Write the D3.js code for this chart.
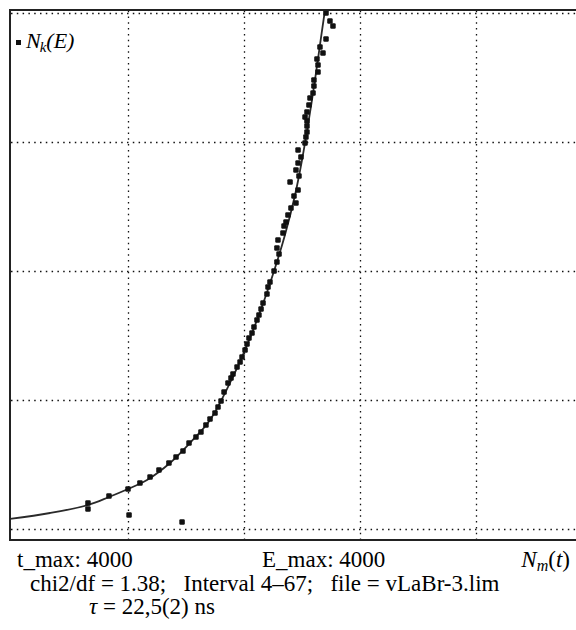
<!DOCTYPE html>
<html><head><meta charset="utf-8">
<script src="https://cdn.jsdelivr.net/npm/d3@7"></script>
<style>
html,body{margin:0;padding:0;background:#fff;}
svg{display:block;}
text{font-family:"Liberation Serif","Times New Roman",Times,Tinos,"Nimbus Roman","DejaVu Serif","Noto Serif",serif;fill:#000;}
</style></head>
<body>
<svg id="chart" width="576" height="630"></svg>
<script>
// measured points N_k(E) vs N_m(t)
const ptX = [655,655,836,1000,1103,1190,1267,1353,1414,1474,1526,1586,1629,1672,1707,1750,1776,1802,
  1828,1862,1888,1905,1940,1966,1983,2009,2026,2043,2069,2086,2112,2129,2147,2164,2198,2207,2224,2259,2284,2302,
  2284,2293,2336,2345,2362,2379,2405,2448,2431,2466,2397,2474,2448,2466,2491,2466,2526,2534,2543,2543,2543,
  2526,2543,2560,2569,2595,2603,2603,2638,2638,2629,2681,2655,2707,2767,2741,2707];
const ptY = [202,155,256,310,357,403,457,512,558,605,667,713,752,806,853,899,946,992,
  1062,1132,1171,1202,1256,1295,1333,1388,1434,1481,1519,1566,1620,1659,1705,1752,1822,1876,1915,2000,2070,2132,
  2178,2240,2295,2349,2380,2434,2488,2527,2581,2628,2690,2736,2783,2837,2884,2938,2992,3039,3078,3124,3163,
  3194,3233,3287,3341,3380,3434,3481,3543,3597,3643,3690,3736,3798,3899,3938,4000];
// outliers outside fit interval
const outX = [1009,1466];
const outY = [109,54];
// fitted curve
const fitX = [-20,328,655,836,1000,1164,1362,1534,1707,1879,2009,2138,2259,2353,2440,2500,2552,2612,2655,2698,2724];
const fitY = [78,124,186,248,310,380,512,667,845,1132,1388,1682,2000,2279,2589,2860,3132,3481,3752,4023,4178];
// grid ticks
const xTicks = [1000,2000,3000,4000];
const yTicks = [0,1000,2000,3000,4000];
const legendLabel = {main:"N", sub:"k", rest:"(E)"};
const infoLeft = "t_max: 4000";
const infoMid = "E_max: 4000";
const xLabel = {main:"N", sub:"m", rest:"(t)"};
const infoLine2 = "chi2/df = 1.38;   Interval 4–67;   file = vLaBr-3.lim";
const infoLine3 = {sym:"τ", rest:" = 22,5(2) ns"};

const FONT = '"Liberation Serif","Times New Roman",Times,Tinos,"Nimbus Roman","DejaVu Serif","Noto Serif",serif';
const svg = d3.select("#chart");
svg.append("rect").attr("width",576).attr("height",630).attr("fill","#fff");

const x = d3.scaleLinear().domain([0,5000]).range([12,592]);
const y = d3.scaleLinear().domain([0,4000]).range([529,13]);

const frame = {x0:10,y0:10,x1:610,y1:540};
svg.append("defs").append("clipPath").attr("id","clip")
  .append("rect").attr("x",frame.x0).attr("y",frame.y0)
  .attr("width",frame.x1-frame.x0).attr("height",frame.y1-frame.y0);

// grid
const gx = svg.append("g").attr("transform",`translate(0,${frame.y1})`)
  .call(d3.axisBottom(x).tickValues(xTicks).tickSize(frame.y1-frame.y0).tickFormat(""));
gx.select(".domain").remove();
gx.selectAll(".tick line").attr("y2",-(frame.y1-frame.y0)).attr("y1",0)
  .attr("stroke","#111").attr("stroke-width",1.3).attr("stroke-dasharray","1.5,4.3");
const gy = svg.append("g").attr("transform",`translate(${frame.x0},0)`)
  .call(d3.axisLeft(y).tickValues(yTicks).tickSize(0).tickFormat(""));
gy.select(".domain").remove();
gy.selectAll(".tick line").attr("x1",1).attr("x2",frame.x1)
  .attr("stroke","#111").attr("stroke-width",1.3).attr("stroke-dasharray","1.5,4.3");

const plot = svg.append("g").attr("clip-path","url(#clip)");
// fit curve
const fit = fitX.map((v,i)=>[v,fitY[i]]);
plot.append("path").datum(fit)
  .attr("d", d3.line().x(d=>x(d[0])).y(d=>y(d[1])).curve(d3.curveCatmullRom))
  .attr("fill","none").attr("stroke","#2a2a2a").attr("stroke-width",1.8);

// points
const pts = ptX.map((v,i)=>[v,ptY[i]]).concat(outX.map((v,i)=>[v,outY[i]]));
plot.selectAll("rect.pt").data(pts).enter().append("rect").attr("class","pt")
  .attr("x",d=>x(d[0])-2.75).attr("y",d=>y(d[1])-2.75)
  .attr("width",5.5).attr("height",5.5).attr("rx",1.2).attr("fill","#111");

// frame (left, top, bottom)
svg.append("path")
  .attr("d",`M${frame.x1},${frame.y0}H${frame.x0}V${frame.y1}H${frame.x1}`)
  .attr("fill","none").attr("stroke","#222").attr("stroke-width",2);

// legend
svg.append("rect").attr("x",16).attr("y",40).attr("width",5).attr("height",5).attr("fill","#111");
const lg = svg.append("text").attr("x",26).attr("y",48).attr("font-size",22).attr("font-family",FONT);
lg.append("tspan").attr("font-style","italic").text(legendLabel.main);
lg.append("tspan").attr("font-style","italic").attr("font-size",15).attr("dy",4).attr("dx",-1).text(legendLabel.sub);
lg.append("tspan").attr("font-style","italic").attr("dy",-4).text(legendLabel.rest);

// info text
const FS = 23;
svg.append("text").attr("x",17).attr("y",567).attr("font-size",FS).attr("font-family",FONT).text(infoLeft);
svg.append("text").attr("x",262).attr("y",567).attr("font-size",FS).attr("font-family",FONT).text(infoMid);
const xl = svg.append("text").attr("x",570).attr("y",567).attr("font-size",FS)
  .attr("font-family",FONT).attr("text-anchor","end");
xl.append("tspan").attr("font-style","italic").text(xLabel.main);
xl.append("tspan").attr("font-style","italic").attr("font-size",16).attr("dy",4).text(xLabel.sub);
xl.append("tspan").attr("dy",-4).text(xLabel.rest.slice(0,1));
xl.append("tspan").attr("font-style","italic").text(xLabel.rest.slice(1,2));
xl.append("tspan").text(xLabel.rest.slice(2));
svg.append("text").attr("x",30).attr("y",591).attr("font-size",FS).attr("font-family",FONT)
  .style("white-space","pre").text(infoLine2);
const t3 = svg.append("text").attr("x",89).attr("y",614).attr("font-size",FS).attr("font-family",FONT);
t3.append("tspan").attr("font-style","italic").text(infoLine3.sym);
t3.append("tspan").text(infoLine3.rest);
</script>
</body></html>
